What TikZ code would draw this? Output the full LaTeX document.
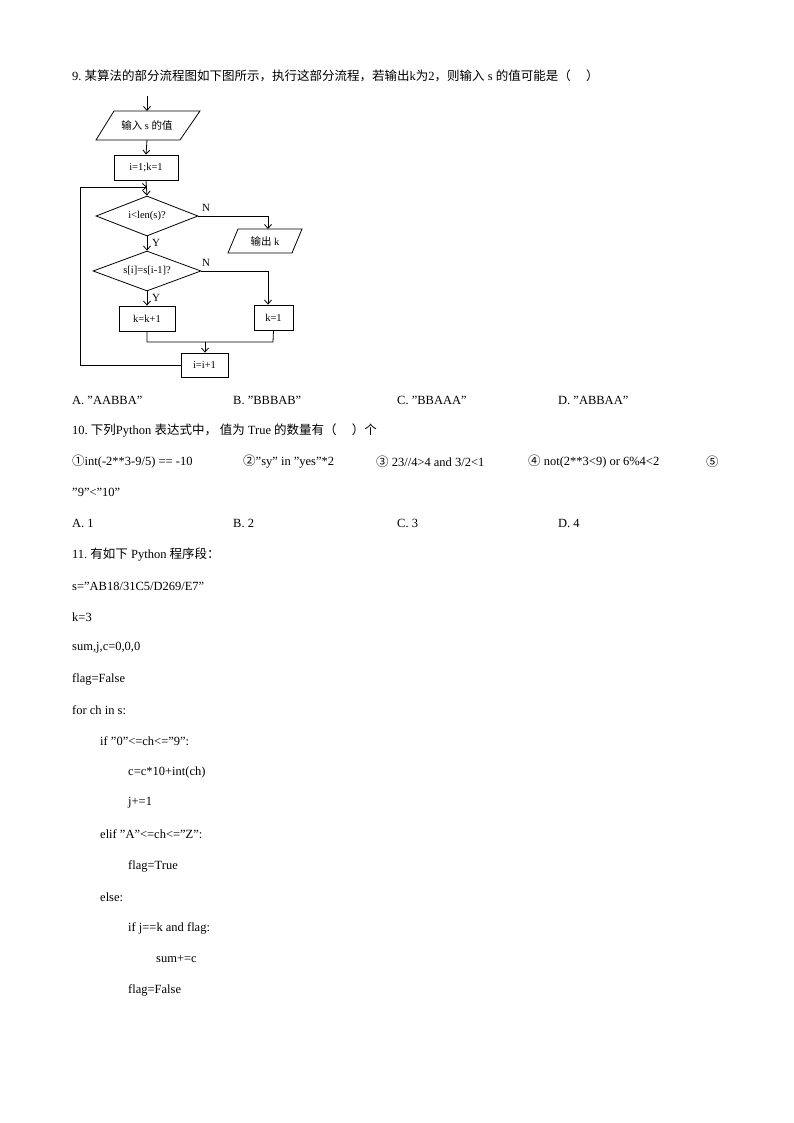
\documentclass[tikz,border=0pt]{standalone}
\usepackage{fontspec}
\setmainfont{Liberation Serif}
\newfontfamily\cjk{Noto Sans CJK SC}
\usetikzlibrary{arrows.meta,shapes.geometric}
\begin{document}
\begin{tikzpicture}[x=1pt,y=-1pt,
 txt/.style={anchor=west,inner sep=0pt,font=\fontsize{12.5}{14}\selectfont},
 fl/.style={draw,line width=0.8pt,font=\fontsize{10.5}{12}\selectfont,inner sep=0pt},
 io/.style={fl,trapezium,trapezium left angle=60,trapezium right angle=120,minimum height=0pt},
 arr/.style={line width=0.8pt,-{Straight Barb[length=4pt,width=7pt]}},
 ln/.style={line width=0.8pt}]
\useasboundingbox (0,0) rectangle (794,1123);
\node[txt] (q9) at (72,76) {9.\ {\cjk 某算法的部分流程图如下图所示，执行这部分流程，若输出}k{\cjk 为}2{\cjk ，则输入} s {\cjk 的值可能是（\quad\ ）}};
% flowchart
\coordinate (top) at (147,96);
\node[fl,draw=none] (in) at (147,125) {};
\draw[line width=0.8pt] (114,111) -- (200,111) -- (180,140) -- (96,140) -- cycle;
\node[font=\fontsize{10.5}{12}\selectfont] at (147,125) {{\cjk 输入} s {\cjk 的值}};
\coordinate (inT) at (147,111); \coordinate (inB) at (147,140);
\node[fl,minimum width=64pt,minimum height=25pt] (init) at (146,167.5) {i=1;k=1};
\node[fl,diamond,aspect=2.5,minimum width=102pt,minimum height=40pt] (d1) at (147,216) {i<len(s)?};
\node[fl,diamond,aspect=2.7,minimum width=108pt,minimum height=40pt] (d2) at (147,271) {s[i]=s[i-1]?};
\draw[line width=0.8pt] (238,229) -- (302,229) -- (292,253) -- (228,253) -- cycle;
\node[font=\fontsize{10.5}{12}\selectfont] (out) at (265,241) {{\cjk 输出} k};
\coordinate (outT) at (268,229);
\node[fl,minimum width=56pt,minimum height=25pt] (kk) at (147,318.5) {k=k+1};
\node[fl,minimum width=39pt,minimum height=25pt] (k1) at (273.5,317.5) {k=1};
\node[fl,minimum width=47pt,minimum height=24pt] (ii) at (204.5,365) {i=i+1};
\draw[arr] (top) -- (inT);
\draw[arr] (inB) -- (init.north);
\draw[arr] (init.south) -- (d1.north);
\draw[arr] (d1.east) -- (268,216) -- (outT);
\draw[arr] (d1.south) -- (d2.north);
\draw[arr] (d2.east) -- (268,271) -- (k1.north -| 268,0);
\draw[arr] (d2.south) -- (kk.north);
\draw[ln] (kk.south) -- (147,342) -- (273,342) -- (k1.south);
\draw[arr] (205,342) -- (ii.north -| 205,0);
\draw[arr] (ii.west) -- (80,365) -- (80,187) -- (147,187);
\node[font=\fontsize{11}{12}\selectfont] at (206,208) {N};
\node[font=\fontsize{11}{12}\selectfont] at (206,263) {N};
\node[font=\fontsize{11}{12}\selectfont] at (156,243) {Y};
\node[font=\fontsize{11}{12}\selectfont] at (156,298) {Y};
% options
\node[txt] (a9) at (72,400) {A. "AABBA"};
\node[txt] (b9) at (233,400) {B. "BBBAB"};
\node[txt] (c9) at (397,400) {C. "BBAAA"};
\node[txt] (d9) at (558,400) {D. "ABBAA"};
\node[txt] (q10) at (72,430) {10.\ {\cjk 下列}Python {\cjk 表达式中，\ 值为}\ True {\cjk 的数量有（\quad\ ）个}};
\node[txt] (e1) at (72,462) {{\cjk ①}int(-2**3-9/5) == -10};
\node[txt] (e2) at (243,462) {{\cjk ②}"sy" in "yes"*2};
\node[txt] (e3) at (376,462) {{\cjk ③} 23//4>4 and 3/2<1};
\node[txt] (e4) at (528,462) {{\cjk ④} not(2**3<9) or 6\%4<2};
\node[txt] (e5) at (706,462) {{\cjk ⑤}};
\node[txt] (e6) at (72,492) {"9"<"10"};
\node[txt] (a10) at (72,523) {A. 1};
\node[txt] (b10) at (233,523) {B. 2};
\node[txt] (c10) at (397,523) {C. 3};
\node[txt] (d10) at (558,523) {D. 4};
\node[txt] (q11) at (72,555) {11.\ {\cjk 有如下}\ Python {\cjk 程序段：}};
\node[txt] (c1) at (72,586) {s="AB18/31C5/D269/E7"};
\node[txt] (c2) at (72,617) {k=3};
\node[txt] (c3) at (72,648) {sum,j,c=0,0,0};
\node[txt] (c4) at (72,679) {flag=False};
\node[txt] (c5) at (72,710) {for ch in s:};
\node[txt] (c6) at (100,741) {if "0"<=ch<="9":};
\node[txt] (c7) at (128,772) {c=c*10+int(ch)};
\node[txt] (c8) at (128,803) {j+=1};
\node[txt] (c9) at (100,834) {elif "A"<=ch<="Z":};
\node[txt] (c10) at (128,866) {flag=True};
\node[txt] (c11) at (100,897) {else:};
\node[txt] (c12) at (128,928) {if j==k and flag:};
\node[txt] (c13) at (156,959) {sum+=c};
\node[txt] (c14) at (128,990) {flag=False};
\end{tikzpicture}
\end{document}
